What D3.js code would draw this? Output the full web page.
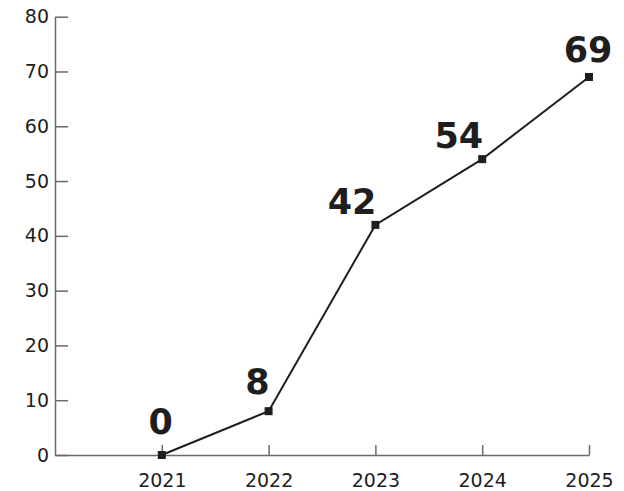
<!DOCTYPE html>
<html>
<head>
<meta charset="utf-8">
<script src="https://cdn.jsdelivr.net/npm/d3@7/dist/d3.min.js"></script>
<style>
  html, body { margin: 0; padding: 0; background: #fff; }
  svg { display: block; }
  text { font-family: "DejaVu Sans", sans-serif; fill: #1e1e1e; }
</style>
</head>
<body>
<svg id="chart" width="624" height="491"></svg>
<script>
const years = [2021, 2022, 2023, 2024, 2025];
const values = [0, 8, 42, 54, 69];
const yTicks = [0, 10, 20, 30, 40, 50, 60, 70, 80];

const svg = d3.select("#chart");
const x = d3.scaleLinear().domain([2020, 2025]).range([55, 589]);
const y = d3.scaleLinear().domain([0, 80]).range([455, 16.7]);

const axisColor = "#6a6a6a";

// Y axis
const gy = svg.append("g").attr("transform", "translate(55,0)")
  .call(d3.axisLeft(y).tickValues(yTicks).tickSizeInner(-13).tickSizeOuter(0).tickPadding(6).tickFormat(d3.format("d")));
gy.selectAll("path, line").attr("stroke", axisColor).attr("stroke-width", 1.5);
gy.selectAll("text").attr("font-size", 19).attr("font-family", "DejaVu Sans, sans-serif").attr("fill", "#1e1e1e");

// X axis
const gx = svg.append("g").attr("transform", "translate(0,455)")
  .call(d3.axisBottom(x).tickValues(years).tickSizeInner(-10).tickSizeOuter(0).tickPadding(19).tickFormat(d3.format("d")));
gx.selectAll("path, line").attr("stroke", axisColor).attr("stroke-width", 1.5);
gx.selectAll("text").attr("font-size", 19).attr("font-family", "DejaVu Sans, sans-serif").attr("fill", "#1e1e1e");

const data = years.map((yr, i) => ({ year: yr, value: values[i] }));

// line
svg.append("path").datum(data)
  .attr("fill", "none").attr("stroke", "#1e1e1e").attr("stroke-width", 2)
  .attr("d", d3.line().x(d => x(d.year)).y(d => y(d.value)));

// markers
svg.selectAll("rect.pt").data(data).enter().append("rect")
  .attr("class", "pt")
  .attr("x", d => x(d.year) - 4).attr("y", d => y(d.value) - 4)
  .attr("width", 8).attr("height", 8).attr("fill", "#1e1e1e");

// value labels
const n = data.length;
svg.selectAll("text.val").data(data).enter().append("text")
  .attr("class", "val")
  .attr("x", (d, i) => (i === 0 || i === n - 1) ? x(d.year) - 1 : x(d.year) + 1)
  .attr("y", (d, i) => y(d.value) - (i === 0 ? 21 : (i === 1 ? 17 : (i === n - 1 ? 15 : 11))))
  .attr("text-anchor", (d, i) => (i === 0 || i === n - 1) ? "middle" : "end")
  .attr("font-size", 35).attr("font-weight", "bold")
  .attr("font-family", "DejaVu Sans, sans-serif")
  .text(d => d.value);
</script>
</body>
</html>
